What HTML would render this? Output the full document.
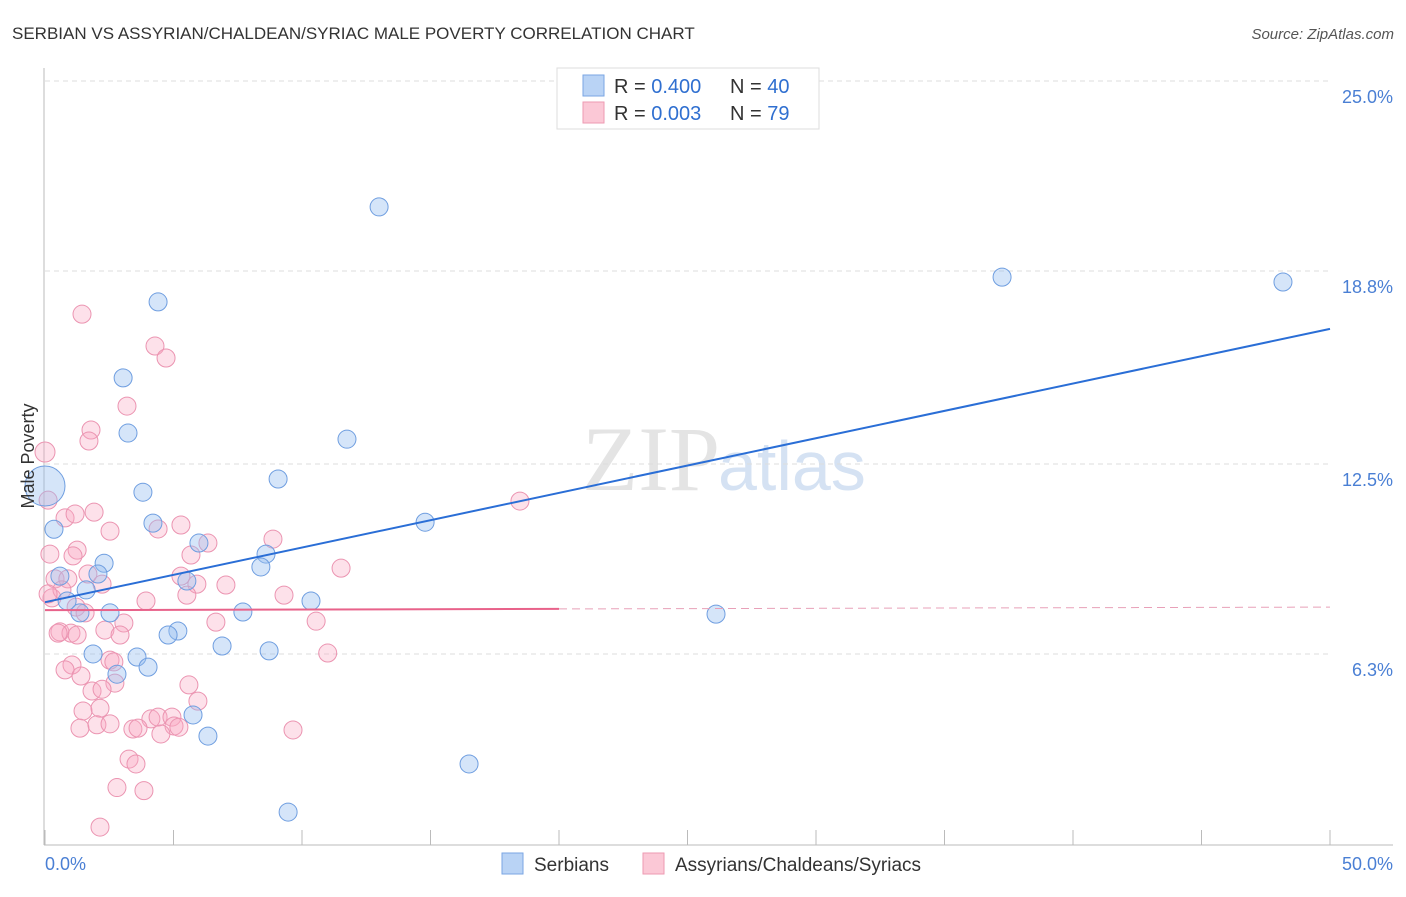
<!DOCTYPE html>
<html><head><meta charset="utf-8"><style>
body{margin:0;background:#fff;font-family:"Liberation Sans",sans-serif;}
</style></head><body>
<svg id="chart" width="1406" height="892" xmlns="http://www.w3.org/2000/svg">
<text x="12" y="39" font-size="17" fill="#333">SERBIAN VS ASSYRIAN/CHALDEAN/SYRIAC MALE POVERTY CORRELATION CHART</text>
<text x="1394" y="39" font-size="15" fill="#555" text-anchor="end" font-style="italic">Source: ZipAtlas.com</text>
<text x="720" y="490" font-size="92" fill="#e4e4e4" text-anchor="end" font-family="Liberation Serif">ZIP</text>
<text x="718" y="490" font-size="70" fill="#d5e2f3">atlas</text>
<g id="grid"></g><g id="axes"></g><g id="pts"></g><g id="lines"></g>
<g>
<rect x="557" y="68" width="262" height="61" fill="#fff" stroke="#ddd"/>
<rect x="583" y="75" width="21" height="21" fill="#b9d3f5" stroke="#7aa6e3"/>
<rect x="583" y="102" width="21" height="21" fill="#fbc8d6" stroke="#ee9ab2"/>
<text x="614" y="93" font-size="20" fill="#333">R = <tspan fill="#2f6fd0">0.400</tspan></text>
<text x="730" y="93" font-size="20" fill="#333">N = <tspan fill="#2f6fd0">40</tspan></text>
<text x="614" y="120" font-size="20" fill="#333">R = <tspan fill="#2f6fd0">0.003</tspan></text>
<text x="730" y="120" font-size="20" fill="#333">N = <tspan fill="#2f6fd0"> 79</tspan></text>
</g>
<text x="0" y="0" font-size="18" fill="#333" text-anchor="middle" transform="translate(34 456) rotate(-90)">Male Poverty</text>
<g>
<rect x="502" y="853" width="21" height="21" fill="#b9d3f5" stroke="#7aa6e3"/>
<text x="534" y="871" font-size="19" fill="#333">Serbians</text>
<rect x="643" y="853" width="21" height="21" fill="#fbc8d6" stroke="#ee9ab2"/>
<text x="675" y="871" font-size="19" fill="#333">Assyrians/Chaldeans/Syriacs</text>
</g>
<text x="45" y="870" font-size="18" fill="#4a7fd4">0.0%</text>
<text x="1393" y="870" font-size="18" fill="#4a7fd4" text-anchor="end">50.0%</text>
</svg>
<script>
const yTicks=[25.0,18.8,12.5,6.3];
const yTickLabels=["25.0%","18.8%","12.5%","6.3%"];
const serbX=[13.0,37.24,48.17,4.40,3.04,3.23,11.75,0,3.81,9.07,0.35,4.20,14.79,5.99,8.60,2.30,8.40,0.58,2.06,1.60,5.52,0.86,1.36,2.53,7.70,10.35,26.11,5.17,4.79,6.89,1.87,3.58,8.72,4.01,2.80,5.76,6.34,16.50,9.46];
const serbY=[20.89,18.60,18.44,17.79,15.31,13.51,13.31,11.78,11.58,12.01,10.37,10.57,10.60,9.92,9.56,9.26,9.14,8.84,8.91,8.39,8.68,8.03,7.64,7.64,7.67,8.03,7.60,7.05,6.92,6.56,6.30,6.20,6.40,5.87,5.64,4.31,3.62,2.71,1.14];
const assyX=[1.44,4.28,4.71,3.19,1.79,1.71,0,18.48,0.12,0.78,1.17,1.91,5.29,4.40,2.53,8.87,6.34,0.19,1.25,1.09,5.68,11.52,0.39,0.89,1.67,2.22,5.29,5.91,7.04,9.30,5.52,3.93,0.27,0.66,0.12,1.21,1.56,6.65,3.07,10.55,2.33,0.58,1.01,0.51,1.25,2.92,11.0,2.53,2.68,1.05,0.78,1.40,2.72,5.60,1.83,2.22,5.95,1.48,2.14,4.12,4.40,4.94,5.02,5.21,1.36,2.02,2.53,3.42,3.62,4.51,9.65,3.27,3.54,2.80,3.85,2.14];
const assyY=[17.39,16.35,15.96,14.39,13.61,13.25,12.89,11.29,11.32,10.74,10.87,10.93,10.51,10.38,10.31,10.05,9.92,9.56,9.69,9.50,9.53,9.10,8.75,8.75,8.91,8.58,8.84,8.58,8.55,8.22,8.22,8.03,8.13,8.39,8.26,7.83,7.64,7.34,7.31,7.37,7.08,7.02,6.98,6.98,6.92,6.92,6.33,6.10,6.04,5.94,5.78,5.58,5.35,5.29,5.09,5.15,4.76,4.44,4.53,4.18,4.24,4.24,3.95,3.91,3.88,3.99,4.02,3.85,3.88,3.69,3.82,2.87,2.71,1.94,1.84,0.65];
const serbTrend=[7.99,16.91];
const assyTrend=[7.73,7.83];
const NS="http://www.w3.org/2000/svg";
const X=v=>45+v/50*1285, Y=v=>81+(25-v)*30.64;
function mk(t,a,p){const e=document.createElementNS(NS,t);for(const k in a)e.setAttribute(k,a[k]);document.getElementById(p).appendChild(e);return e;}
yTicks.forEach((t,i)=>{
 const g=mk('line',{x1:45,x2:1330,y1:Y(t),y2:Y(t),stroke:'#ddd','stroke-dasharray':'5,4'},'grid');
 
 
 const l=mk('text',{x:1393,y:Y(t)+22,'font-size':18,fill:'#4a7fd4','text-anchor':'end'},'axes');
 l.textContent=yTickLabels[i];
 
 
});
let ax=mk('line',{x1:44,x2:44,y1:68,y2:845,stroke:'#bbb'},'axes');


ax=mk('line',{x1:44,x2:1393,y1:845,y2:845,stroke:'#bbb'},'axes');


for(let i=0;i<=10;i++){const tk=mk('line',{x1:X(i*5),x2:X(i*5),y1:830,y2:845,stroke:'#bbb'},'axes');
 
 }
assyX.forEach((x,i)=>{const c=mk('circle',{cx:X(x),cy:Y(assyY[i]),r:i==6?10:9,fill:'rgba(248,170,195,0.35)',stroke:'#eb94b1','stroke-width':1},'pts');
 
 });
serbX.forEach((x,i)=>{const c=mk('circle',{cx:X(x),cy:Y(serbY[i]),r:i==7?20:9,fill:'rgba(150,190,240,0.4)',stroke:'#6f9ee0','stroke-width':1},'pts');
 
 });
let ln=mk('line',{x1:X(0),y1:Y(serbTrend[0]),x2:X(50),y2:Y(serbTrend[1]),stroke:'#2a6ed6','stroke-width':2},'lines');


const ay=x=>assyTrend[0]+(assyTrend[1]-assyTrend[0])*x/50;
ln=mk('line',{x1:X(0),y1:Y(ay(0)),x2:X(20),y2:Y(ay(20)),stroke:'#e8628a','stroke-width':2},'lines');


ln=mk('line',{x1:X(20),y1:Y(ay(20)),x2:X(50),y2:Y(ay(50)),stroke:'#e8a0b8','stroke-width':1,'stroke-dasharray':'8,5'},'lines');


</script>
</body></html>
